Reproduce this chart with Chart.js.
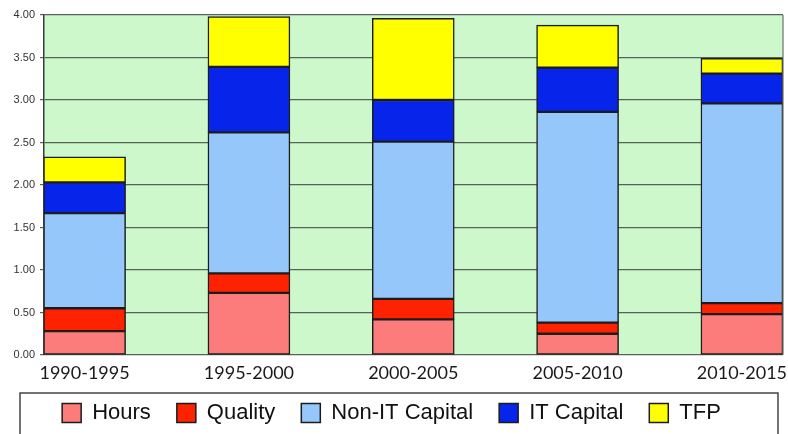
<!DOCTYPE html>
<html>
<head>
<meta charset="utf-8">
<script src="https://cdn.jsdelivr.net/npm/chart.js@4/dist/chart.umd.min.js"></script>
<style>
  html, body { margin: 0; padding: 0; background: #fff; }
  #wrap { width: 788px; height: 434px; }
</style>
</head>
<body>
<div id="wrap"><canvas id="chart"></canvas></div>
<script>
var periods = ["1990-1995", "1995-2000", "2000-2005", "2005-2010", "2010-2015"];
var hours = [0.28, 0.73, 0.42, 0.25, 0.48];
var quality = [0.27, 0.23, 0.24, 0.13, 0.13];
var nonItCapital = [1.12, 1.66, 1.85, 2.48, 2.35];
var itCapital = [0.36, 0.77, 0.49, 0.52, 0.35];
var tfp = [0.30, 0.59, 0.96, 0.50, 0.18];
var yTicks = [0, 0.5, 1, 1.5, 2, 2.5, 3, 3.5, 4];

function points(values) {
    return values.map(function(v, i) { return {x: i, y: v}; });
}

function series(label, values, color) {
    return {
        label: label,
        data: points(values),
        backgroundColor: color,
        borderColor: "#1c1c1c",
        borderWidth: 1.5,
        borderSkipped: false,
        barThickness: 82
    };
}

var data = {
    datasets: [
        series("Hours", hours, "#fb7c7a"),
        series("Quality", quality, "#fe2200"),
        series("Non-IT Capital", nonItCapital, "#96c7fa"),
        series("IT Capital", itCapital, "#0624ea"),
        series("TFP", tfp, "#ffff00")
    ]
};

// green plot background, frame round the plot and the legend
var decor = {
    id: "decor",
    beforeInit: function(chart) {
        var fit = chart.legend.fit;
        chart.legend.fit = function() {
            fit.bind(chart.legend)();
            this.height = 50;
        };
    },
    afterLayout: function(chart) {
        // legend rows sit lower than the layout would put them
        chart.legend.top = 376;
        chart.legend.bottom = 434;
    },
    beforeDraw: function(chart) {
        var a = chart.chartArea, c = chart.ctx;
        c.save();
        c.fillStyle = "#ccf8cb";
        c.fillRect(a.left, a.top, a.right - a.left, a.bottom - a.top);
        c.restore();
    },
    afterDraw: function(chart) {
        var a = chart.chartArea, c = chart.ctx;
        c.save();
        c.strokeStyle = "#6a6f6a";
        c.lineWidth = 1.2;
        c.beginPath();
        c.moveTo(a.right, a.top);
        c.lineTo(a.right, a.bottom);
        c.stroke();
        c.strokeStyle = "#444";
        c.lineWidth = 1.5;
        c.strokeRect(20, 393, 758, 60);
        c.restore();
    }
};

new Chart(document.getElementById("chart"), {
    type: "bar",
    data: data,
    plugins: [decor],
    options: {
        responsive: true,
        maintainAspectRatio: false,
        animation: false,
        layout: { padding: { top: 15, right: 5, left: 0, bottom: 0 } },
        plugins: {
            tooltip: { enabled: false },
            legend: {
                position: "bottom",
                labels: {
                    boxWidth: 19,
                    boxHeight: 19,
                    padding: 26,
                    color: "#111",
                    font: { family: "'Liberation Sans', Arial, sans-serif", size: 22 }
                }
            }
        },
        scales: {
            x: {
                type: "linear",
                stacked: true,
                min: -0.247,
                max: 4.25,
                offset: false,
                afterBuildTicks: function(scale) {
                    scale.ticks = periods.map(function(p, i) { return {value: i}; });
                },
                afterFit: function(scale) {
                    scale.height = 29;
                    scale.paddingLeft = 0;
                    scale.paddingRight = 0;
                },
                grid: { display: false, drawTicks: false },
                border: { display: false },
                ticks: {
                    autoSkip: false,
                    maxRotation: 0,
                    padding: 7,
                    color: "#1a1a1a",
                    font: { family: "Lato, 'Open Sans', sans-serif", size: 18 },
                    callback: function(v) { return periods[v]; }
                }
            },
            y: {
                stacked: true,
                min: 0,
                max: 4,
                afterBuildTicks: function(scale) {
                    scale.ticks = yTicks.map(function(v) { return {value: v}; });
                },
                afterFit: function(scale) { scale.width = 44; },
                grid: { color: "#56625a", lineWidth: 1.2, tickLength: 4 },
                border: { color: "#3a3a3a", width: 1.5 },
                ticks: {
                    padding: 5,
                    color: "#333",
                    font: { family: "'Liberation Sans', Arial, sans-serif", size: 11 },
                    callback: function(v) { return v.toFixed(2); }
                }
            }
        }
    }
});
</script>
</body>
</html>
